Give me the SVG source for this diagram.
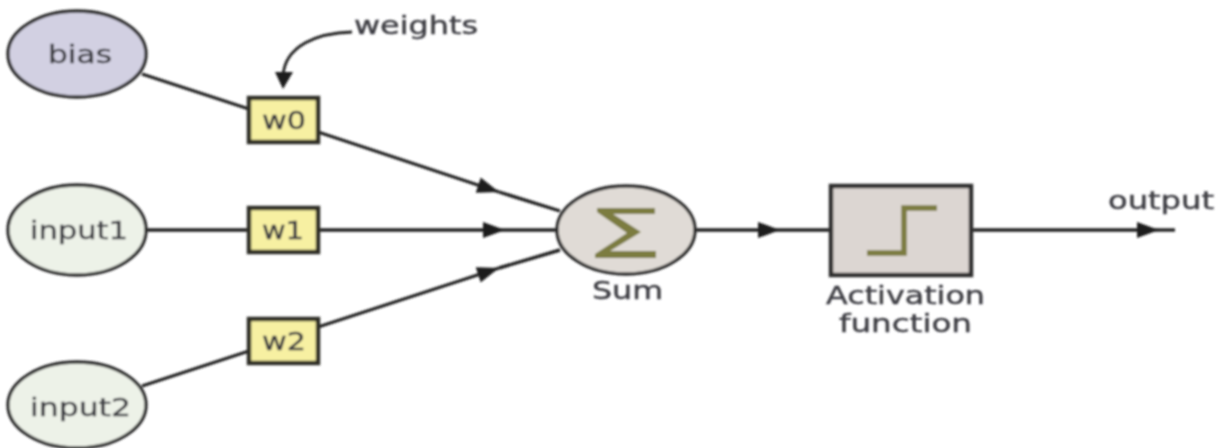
<svg xmlns="http://www.w3.org/2000/svg" width="1219" height="448" viewBox="0 0 1219 448">
<style>
.o{stroke:#2e2e2e;stroke-width:3.4}
.l{stroke:#222;stroke-width:3.4;fill:none}
.t{font-family:"DejaVu Sans",sans-serif;font-size:24px;fill:#3c3c42;stroke:#3c3c42;stroke-width:.4;text-anchor:start}
.w{fill:#f7f0a2;stroke:#2e2e26;stroke-width:4.5}
.s{fill:none;stroke:#7b7b40;stroke-width:5.5}
</style>
<defs>
<filter id="b" x="-2%" y="-2%" width="104%" height="104%"><feGaussianBlur stdDeviation="0.8"/></filter>
<marker id="a" markerUnits="userSpaceOnUse" markerWidth="24" markerHeight="18" refX="22" refY="8" orient="auto"><path d="M0 0L22 8L0 16Z" fill="#1a1a1a"/></marker>
</defs>
<rect width="1219" height="448" fill="#fff"/>
<g filter="url(#b)">
<g id="connectors">
<path class="l" d="M142 74L249 109"/>
<path class="l" d="M318 132L499 192" marker-end="url(#a)"/>
<path class="l" d="M499 192L560 211"/>
<path class="l" d="M146 230H249"/>
<path class="l" d="M318 230H505" marker-end="url(#a)"/>
<path class="l" d="M505 230H557"/>
<path class="l" d="M142 386L249 351"/>
<path class="l" d="M318 327L499 268" marker-end="url(#a)"/>
<path class="l" d="M499 268L560 250"/>
<path class="l" d="M695 230H780" marker-end="url(#a)"/>
<path class="l" d="M780 230H831"/>
<path class="l" d="M971 230H1159" marker-end="url(#a)"/>
<path class="l" d="M1159 230H1175"/>
<path class="l" style="stroke-width:2.8" d="M352 32C318 33 285 45 283 76"/>
<path d="M275 72L293 72L283 89Z" fill="#1a1a1a"/>
</g>
<g id="bias"><ellipse class="o" cx="77" cy="54" rx="69" ry="43" fill="#d2d0e2"/><text class="t" x="48" y="63" textLength="64" lengthAdjust="spacingAndGlyphs">bias</text></g>
<g id="input1"><ellipse class="o" cx="77" cy="230" rx="69" ry="45" fill="#edf2e8"/><text class="t" x="30" y="239" textLength="98" lengthAdjust="spacingAndGlyphs">input1</text></g>
<g id="input2"><ellipse class="o" cx="77" cy="405" rx="69" ry="43" fill="#edf2e8"/><text class="t" x="30" y="416" textLength="101" lengthAdjust="spacingAndGlyphs">input2</text></g>
<g id="w0"><rect class="w" x="249" y="98" width="69" height="44"/><text class="t" x="262" y="129" textLength="44" lengthAdjust="spacingAndGlyphs">w0</text></g>
<g id="w1"><rect class="w" x="249" y="208" width="69" height="44"/><text class="t" x="262" y="239" textLength="42" lengthAdjust="spacingAndGlyphs">w1</text></g>
<g id="w2"><rect class="w" x="249" y="319" width="69" height="44"/><text class="t" x="262" y="350" textLength="44" lengthAdjust="spacingAndGlyphs">w2</text></g>
<g id="weights"><text class="t" x="354" y="34" textLength="124" lengthAdjust="spacingAndGlyphs">weights</text></g>
<g id="sum"><ellipse class="o" cx="626" cy="230" rx="69" ry="44" fill="#e0dbd6"/><path d="M597 208H655V214H613L641 232L610 251H656V258H595V254L627 233L597 212Z" fill="#7b7b40"/><text class="t" x="592" y="299" textLength="71" lengthAdjust="spacingAndGlyphs">Sum</text></g>
<g id="activation"><rect x="831" y="186" width="140" height="89" fill="#dcd6d2" stroke="#2e2e2e" stroke-width="4.5"/><path class="s" d="M867 253H904V208H937"/><text class="t" x="826" y="304" textLength="159" lengthAdjust="spacingAndGlyphs">Activation</text><text class="t" x="839" y="332" textLength="133" lengthAdjust="spacingAndGlyphs">function</text></g>
<g id="output"><text class="t" x="1108" y="209" textLength="106" lengthAdjust="spacingAndGlyphs">output</text></g>
</g>
</svg>
